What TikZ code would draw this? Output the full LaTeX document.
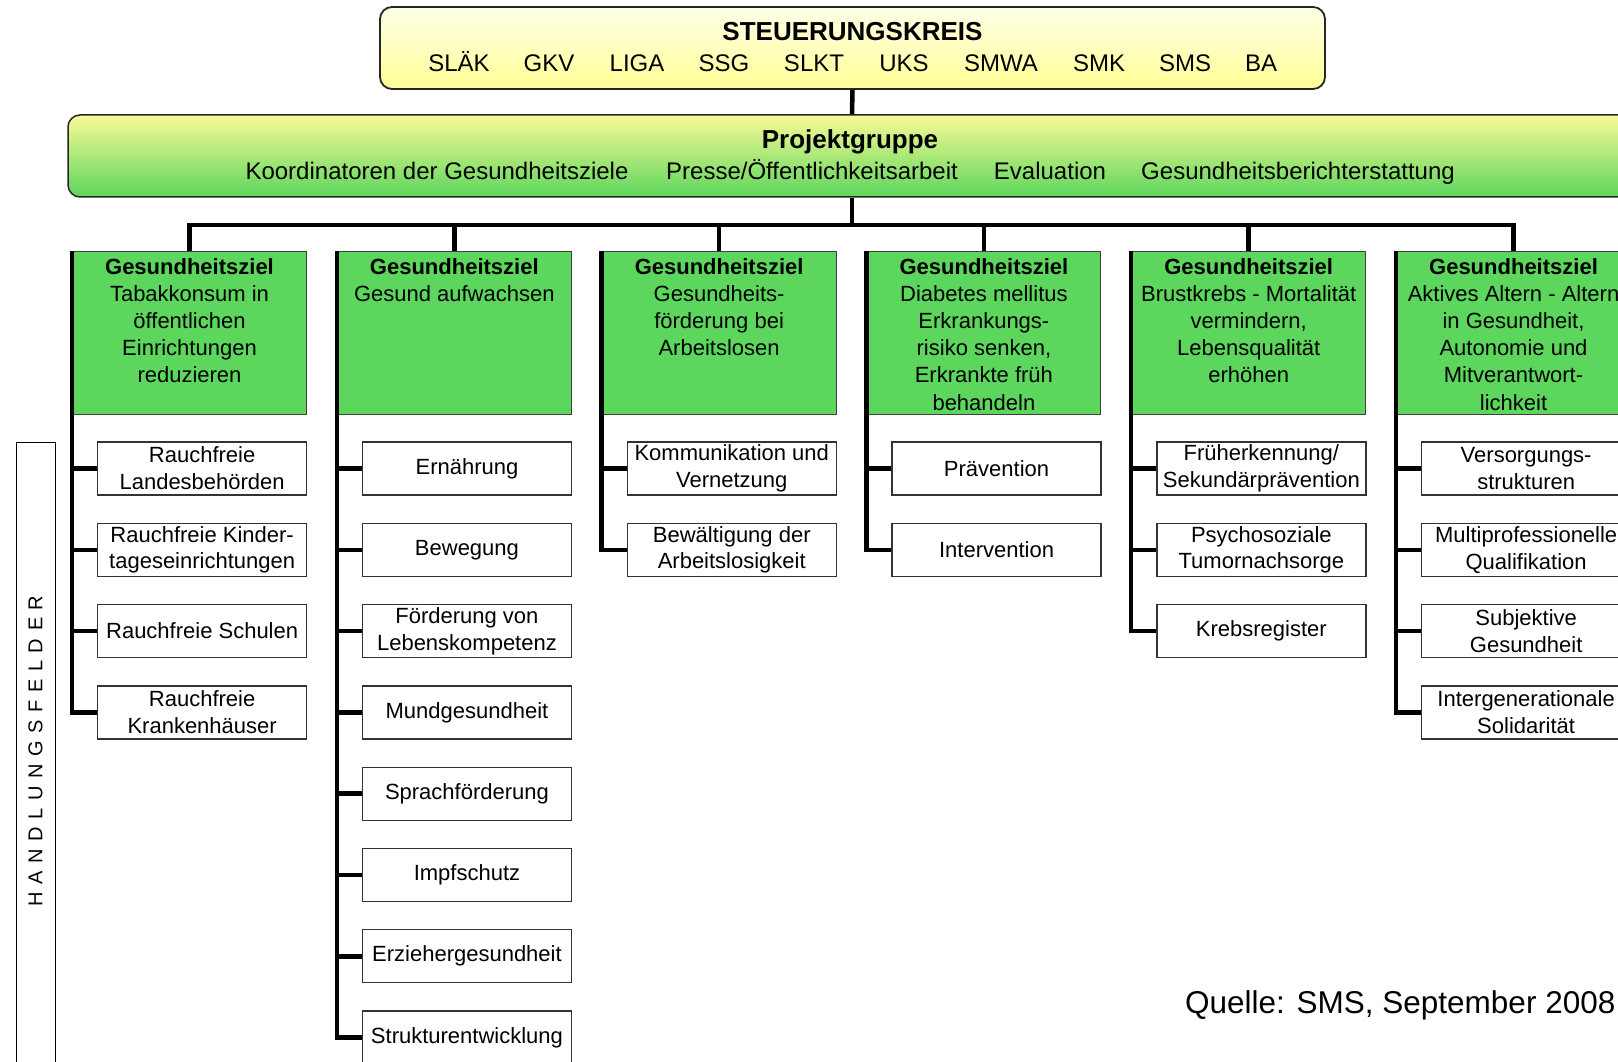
\documentclass[tikz,border=0pt]{standalone}
\usepackage{fontspec}
\setmainfont{Liberation Sans}
\usetikzlibrary{positioning}

\definecolor{zielgruen}{RGB}{92,214,92}
\definecolor{skoben}{RGB}{255,255,232}
\definecolor{skunten}{RGB}{255,255,150}
\definecolor{pgoben}{RGB}{250,250,150}
\definecolor{pgunten}{RGB}{92,214,92}

\tikzset{
  conn/.style={line width=4.5pt},
  skbox/.style={draw=black!85, line width=1.8pt, rounded corners=12pt, top color=skoben, bottom color=skunten, minimum width=945pt, minimum height=82pt, inner sep=0pt},
  pgbox/.style={draw=black!85, line width=1.5pt, rounded corners=12pt, top color=pgoben, bottom color=pgunten, minimum width=1568pt, minimum height=82pt, inner sep=0pt},
  goalbox/.style={draw=black!75, line width=1pt, fill=zielgruen, minimum width=234pt, minimum height=163pt, anchor=north west, inner sep=0pt},
  goaltext/.style={align=center, inner sep=0pt, font=\fontsize{22}{27.2}\selectfont},
  fieldbox/.style={draw=black!80, line width=1.3pt, fill=white, minimum width=209pt, minimum height=53pt, anchor=west, align=center, inner sep=0pt, font=\fontsize{22}{26.8}\selectfont},
  member/.style={anchor=base, inner sep=0pt, font=\fontsize{24}{28}\selectfont},
  pgitem/.style={anchor=base, inner sep=0pt, font=\fontsize{24}{28}\selectfont},
}

\begin{document}
\begin{tikzpicture}[x=1pt,y=-1pt]
  \useasboundingbox (0,0) rectangle (1618,1062);
  \clip (0,0) rectangle (1618,1062);

  % Steuerungskreis
  \node[skbox] (sk) at (852.5,48) {};
  \node[anchor=base, inner sep=0pt, font=\fontsize{26}{30}\selectfont\bfseries] (sktitel) at (852.5,41) {STEUERUNGSKREIS};
  \foreach \x/\name [count=\i] in {459/SLÄK, 549/GKV, 637/LIGA, 724/SSG, 814/SLKT, 904/UKS, 1001/SMWA, 1099/SMK, 1185/SMS, 1261/BA}
    \node[member] (m\i) at (\x,71.5) {\name};

  % Projektgruppe
  \node[pgbox] (pg) at (852,156) {};
  \node[anchor=base, inner sep=0pt, font=\fontsize{26}{30}\selectfont\bfseries] (pgtitel) at (850,149) {Projektgruppe};
  \node[pgitem] (pg1) at (437,179.5) {Koordinatoren der Gesundheitsziele};
  \node[pgitem] (pg2) at (812,179.5) {Presse/Öffentlichkeitsarbeit};
  \node[pgitem] (pg3) at (1050,179.5) {Evaluation};
  \node[pgitem] (pg4) at (1298,179.5) {Gesundheitsberichterstattung};

  % Gesundheitsziele
  \node[goalbox] (g1) at (72,251) {};
  \node[goalbox] (g2) at (336.8,251) {};
  \node[goalbox] (g3) at (601.6,251) {};
  \node[goalbox] (g4) at (866.4,251) {};
  \node[goalbox] (g5) at (1131.2,251) {};
  \node[goalbox] (g6) at (1396,251) {};
  \node[goaltext, below=7pt of g1.north] (t1) {\textbf{Gesundheitsziel}\\Tabakkonsum in\\öffentlichen\\Einrichtungen\\reduzieren};
  \node[goaltext, below=7pt of g2.north] (t2) {\textbf{Gesundheitsziel}\\Gesund aufwachsen};
  \node[goaltext, below=7pt of g3.north] (t3) {\textbf{Gesundheitsziel}\\Gesundheits-\\förderung bei\\Arbeitslosen};
  \node[goaltext, below=7pt of g4.north] (t4) {\textbf{Gesundheitsziel}\\Diabetes mellitus\\Erkrankungs-\\risiko senken,\\Erkrankte früh\\behandeln};
  \node[goaltext, below=7pt of g5.north] (t5) {\textbf{Gesundheitsziel}\\Brustkrebs - Mortalität\\vermindern,\\Lebensqualität\\erhöhen};
  \node[goaltext, below=7pt of g6.north] (t6) {\textbf{Gesundheitsziel}\\Aktives Altern - Altern\\in Gesundheit,\\Autonomie und\\Mitverantwort-\\lichkeit};

  % Handlungsfelder
  \node[fieldbox] (f11) at (97,468.5) {Rauchfreie\\Landesbehörden};
  \node[fieldbox] (f12) at (97,549.8) {Rauchfreie Kinder-\\tageseinrichtungen};
  \node[fieldbox] (f13) at (97,631.1) {Rauchfreie Schulen};
  \node[fieldbox] (f14) at (97,712.4) {Rauchfreie\\Krankenhäuser};

  \node[fieldbox] (f21) at (361.8,468.5) {Ernährung};
  \node[fieldbox] (f22) at (361.8,549.8) {Bewegung};
  \node[fieldbox] (f23) at (361.8,631.1) {Förderung von\\Lebenskompetenz};
  \node[fieldbox] (f24) at (361.8,712.4) {Mundgesundheit};
  \node[fieldbox] (f25) at (361.8,793.7) {Sprachförderung};
  \node[fieldbox] (f26) at (361.8,875) {Impfschutz};
  \node[fieldbox] (f27) at (361.8,956.3) {Erziehergesundheit};
  \node[fieldbox] (f28) at (361.8,1037.6) {Strukturentwicklung};

  \node[fieldbox] (f31) at (626.6,468.5) {Kommunikation und\\Vernetzung};
  \node[fieldbox] (f32) at (626.6,549.8) {Bewältigung der\\Arbeitslosigkeit};

  \node[fieldbox] (f41) at (891.4,468.5) {Prävention};
  \node[fieldbox] (f42) at (891.4,549.8) {Intervention};

  \node[fieldbox] (f51) at (1156.2,468.5) {Früherkennung/\\Sekundärprävention};
  \node[fieldbox] (f52) at (1156.2,549.8) {Psychosoziale\\Tumornachsorge};
  \node[fieldbox] (f53) at (1156.2,631.1) {Krebsregister};

  \node[fieldbox] (f61) at (1421,468.5) {Versorgungs-\\strukturen};
  \node[fieldbox] (f62) at (1421,549.8) {Multiprofessionelle\\Qualifikation};
  \node[fieldbox] (f63) at (1421,631.1) {Subjektive\\Gesundheit};
  \node[fieldbox] (f64) at (1421,712.4) {Intergenerationale\\Solidarität};

  % Verbindungen
  \coordinate (bar) at (852,225);
  \draw[conn] (sk.south) -- (pg.north);
  \draw[conn] (pg.south) -- (bar);
  \draw[conn] (g1.north) -- (g1.north |- bar) -- (g6.north |- bar) -- (g6.north);
  \foreach \i in {2,...,5}
    \draw[conn] (g\i.north) -- (g\i.north |- bar);

  \draw[conn] (g1.north west) |- (f14.west);
  \foreach \r in {1,2,3}
    \draw[conn] (g1.north west |- f1\r.west) -- (f1\r.west);
  \draw[conn] (g2.north west) |- (f28.west);
  \foreach \r in {1,...,7}
    \draw[conn] (g2.north west |- f2\r.west) -- (f2\r.west);
  \draw[conn] (g3.north west) |- (f32.west);
  \draw[conn] (g3.north west |- f31.west) -- (f31.west);
  \draw[conn] (g4.north west) |- (f42.west);
  \draw[conn] (g4.north west |- f41.west) -- (f41.west);
  \draw[conn] (g5.north west) |- (f53.west);
  \foreach \r in {1,2}
    \draw[conn] (g5.north west |- f5\r.west) -- (f5\r.west);
  \draw[conn] (g6.north west) |- (f64.west);
  \foreach \r in {1,2,3}
    \draw[conn] (g6.north west |- f6\r.west) -- (f6\r.west);

  % Seitenleiste und Quelle
  \node[draw, line width=1.2pt, minimum width=39pt, minimum height=640pt, anchor=north west, inner sep=0pt] (hf) at (16,442) {};
  \node[rotate=90, inner sep=0pt, font=\fontsize{20}{24}\selectfont\addfontfeature{LetterSpace=38}] (hftext) at (35.5,751) {HANDLUNGSFELDER};
  \node[anchor=base west, inner sep=0pt, font=\fontsize{31.5}{36}\selectfont] (quelle) at (1185,1013) {Quelle: SMS, September 2008};
\end{tikzpicture}
\end{document}
